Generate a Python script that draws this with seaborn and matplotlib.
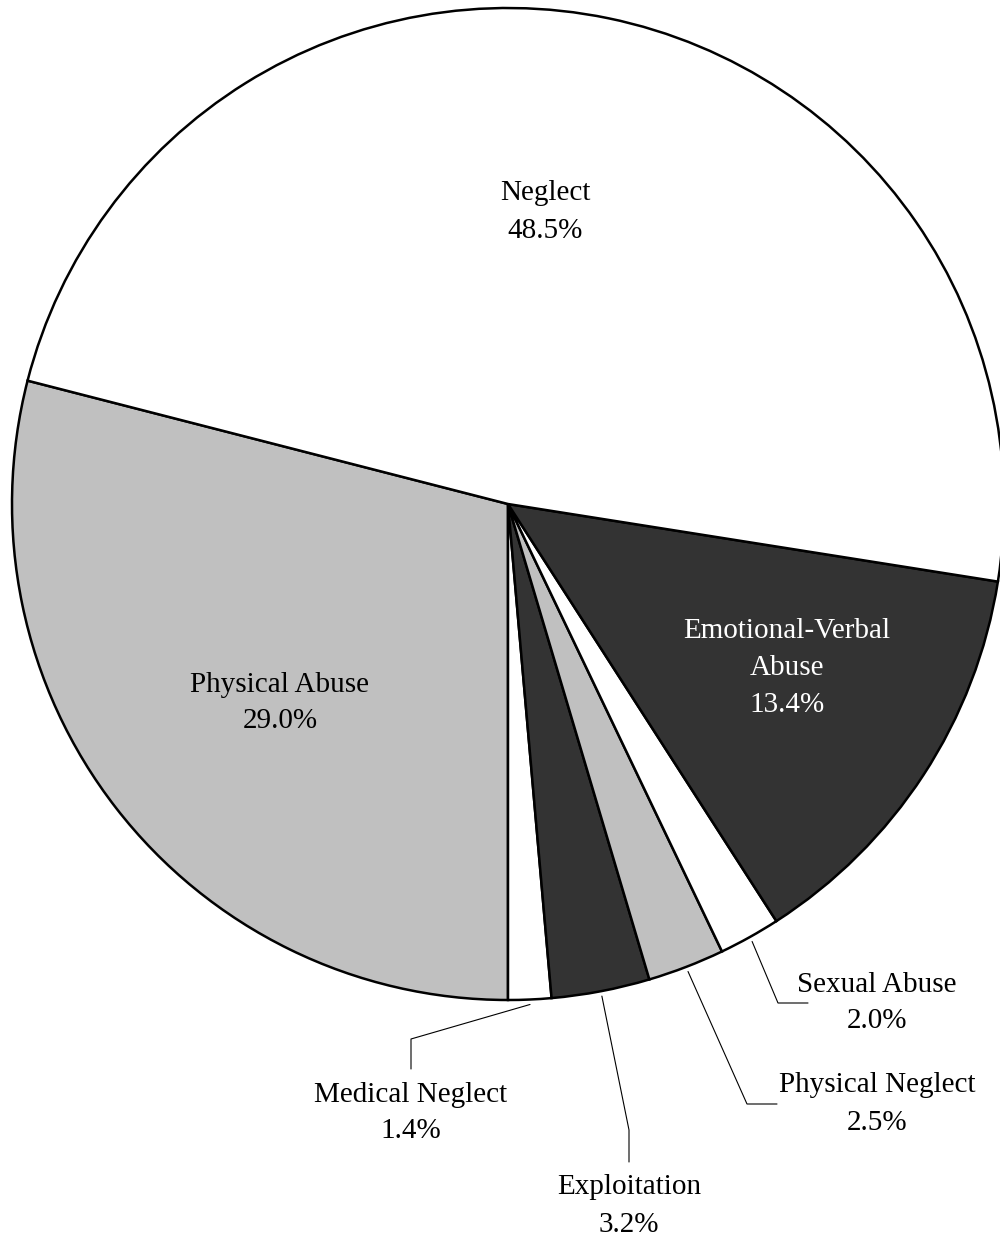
import numpy as np
import matplotlib
matplotlib.use("Agg")
import matplotlib.pyplot as plt
import seaborn as sns

sns.set_theme(style="white")
plt.rcParams['font.family'] = ['Liberation Serif', 'DejaVu Serif']

# Data (counterclockwise order starting from Physical Abuse)
categories = ["Physical Abuse", "Medical Neglect", "Exploitation", "Physical Neglect",
              "Sexual Abuse", "Emotional-Verbal\nAbuse", "Neglect"]
values = [29.0, 1.4, 3.2, 2.5, 2.0, 13.4, 48.5]
colors = ["#c0c0c0", "#ffffff", "#333333", "#c0c0c0", "#ffffff", "#333333", "#ffffff"]

fig = plt.figure(figsize=(10, 12.39), dpi=100)
ax = fig.add_axes([0, 0, 1, 1])

cx, cy, R = 508, 1239 - 504, 496
start = 270 - values[0] * 3.6
wedges, _ = ax.pie(values, colors=colors, startangle=start, counterclock=True,
                   center=(cx, cy), radius=R, frame=True,
                   wedgeprops=dict(edgecolor='black', linewidth=1.8))
ax.set_xlim(0, 1000)
ax.set_ylim(0, 1239)
ax.set_aspect('equal')
ax.axis('off')

fs = 21
ls = 1.55
# inside labels (pixel coords from top)
inside = {
    "Neglect": (545, 212, 'black'),
    "Physical Abuse": (280, 703, 'black'),
    "Emotional-Verbal\nAbuse": (787, 668, 'white'),
}
for name, v in zip(categories, values):
    if name in inside:
        x, y, c = inside[name]
        ax.text(x, 1239 - y, f"{name}\n{v:.1f}%", ha='center', va='center',
                fontsize=fs, color=c, linespacing=ls)

# outside labels with elbow leader lines
outside = {
    # name: (elbow point, end point, text center)
    "Sexual Abuse": ((778, 1003), (808, 1003), (877, 1003)),
    "Physical Neglect": ((747, 1104), (777, 1104), (877, 1104)),
    "Medical Neglect": ((411, 1039), (411, 1069), (411, 1113)),
    "Exploitation": ((629, 1130), (629, 1162), (629, 1206)),
}
for w, name, v in zip(wedges, categories, values):
    if name in outside:
        mid = np.deg2rad((w.theta1 + w.theta2) / 2)
        sx = cx + R * 1.01 * np.cos(mid)
        sy = cy + R * 1.01 * np.sin(mid)
        (ex, ey), (fx, fy), (tx, ty) = outside[name]
        ax.plot([sx, ex, fx], [sy, 1239 - ey, 1239 - fy], color='black', lw=0.8)
        ax.text(tx, 1239 - ty, f"{name}\n{v:.1f}%", ha='center', va='center',
                fontsize=fs, color='black', linespacing=ls)

fig.savefig("out.png", dpi=100)
